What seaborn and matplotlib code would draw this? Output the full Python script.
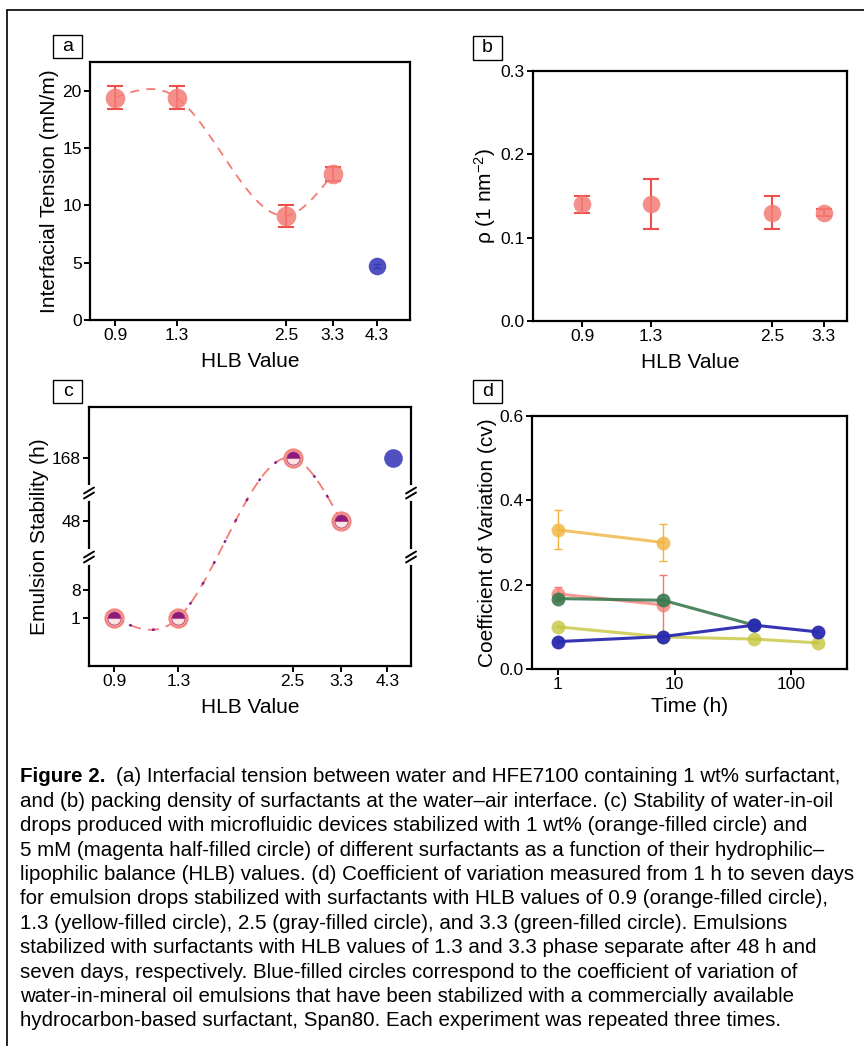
import numpy as np
import pandas as pd
import matplotlib
matplotlib.use("Agg")
import matplotlib.pyplot as plt
import seaborn as sns
from matplotlib.lines import Line2D
from matplotlib.patches import Rectangle

# ---- data -------------------------------------------------------------
hlb = [0.9, 1.3, 2.5, 3.3]
tension = [19.4, 19.4, 9.1, 12.7]
tension_err = [1.0, 1.0, 0.95, 0.6]
span80_hlb = 4.3
span80_tension = 4.7
span80_tension_err = 0.15

density = [0.14, 0.14, 0.13, 0.13]
density_err = [0.01, 0.03, 0.02, 0.004]

stability = [1, 1, 168, 48]
span80_stab_hlb = 4.45
span80_stability = 168

time_h = [1, 8, 48, 168]
cv_hlb09 = [0.33, 0.30]
cv_hlb09_err = [0.046, 0.045]
cv_hlb25 = [0.178, 0.152]
cv_hlb25_err = [0.017, 0.07]
cv_hlb33 = [0.167, 0.163, 0.104]
cv_hlb13 = [0.100, 0.076, 0.071, 0.062]
cv_span80 = [0.065, 0.077, 0.104, 0.088]

caption = [
    "and (b) packing density of surfactants at the water\u2013air interface. (c) Stability of water-in-oil",
    "drops produced with microfluidic devices stabilized with 1 wt% (orange-filled circle) and",
    "5 mM (magenta half-filled circle) of different surfactants as a function of their hydrophilic\u2013",
    "lipophilic balance (HLB) values. (d) Coefficient of variation measured from 1 h to seven days",
    "for emulsion drops stabilized with surfactants with HLB values of 0.9 (orange-filled circle),",
    "1.3 (yellow-filled circle), 2.5 (gray-filled circle), and 3.3 (green-filled circle). Emulsions",
    "stabilized with surfactants with HLB values of 1.3 and 3.3 phase separate after 48 h and",
    "seven days, respectively. Blue-filled circles correspond to the coefficient of variation of",
    "water-in-mineral oil emulsions that have been stabilized with a commercially available",
    "hydrocarbon-based surfactant, Span80. Each experiment was repeated three times.",
]
caption_head = "Figure 2."
caption_first = "(a) Interfacial tension between water and HFE7100 containing 1 wt% surfactant,"

# ---- style ------------------------------------------------------------
sns.set_theme(style="ticks")
plt.rcParams["font.family"] = ["Liberation Sans", "DejaVu Sans"]
plt.rcParams["mathtext.fontset"] = "custom"
plt.rcParams["mathtext.rm"] = "Liberation Sans"
plt.rcParams["mathtext.it"] = "Liberation Sans"
plt.rcParams["text.color"] = "black"
plt.rcParams["axes.labelcolor"] = "black"

SALMON = "#f47c76"
ERR = "#ef4f49"
BLUE = "#3d3dbb"
TICK_FS = 12.5
LAB_FS = 15

W, H = 864, 1046
fig = plt.figure(figsize=(W / 100, H / 100), dpi=100)


def add_ax(l, t, r, b):
    return fig.add_axes([l / W, 1 - b / H, (r - l) / W, (b - t) / H])


def style_ax(ax):
    for s in ax.spines.values():
        s.set_linewidth(1.6)
        s.set_color("black")
    ax.tick_params(direction="out", length=4, width=1.4, labelsize=TICK_FS,
                   colors="black", pad=2)
    ax.minorticks_off()


def natural_spline(x, y, xs):
    x = np.asarray(x, float)
    y = np.asarray(y, float)
    n = len(x)
    h = np.diff(x)
    A = np.zeros((n, n))
    rhs = np.zeros(n)
    A[0, 0] = A[-1, -1] = 1
    for i in range(1, n - 1):
        A[i, i - 1] = h[i - 1]
        A[i, i] = 2 * (h[i - 1] + h[i])
        A[i, i + 1] = h[i]
        rhs[i] = 3 * ((y[i + 1] - y[i]) / h[i] - (y[i] - y[i - 1]) / h[i - 1])
    c = np.linalg.solve(A, rhs)
    out = np.empty_like(xs)
    for k, xv in enumerate(xs):
        i = min(max(np.searchsorted(x, xv) - 1, 0), n - 2)
        dx = xv - x[i]
        b = (y[i + 1] - y[i]) / h[i] - h[i] * (2 * c[i] + c[i + 1]) / 3
        d = (c[i + 1] - c[i]) / (3 * h[i])
        out[k] = y[i] + b * dx + c[i] * dx ** 2 + d * dx ** 3
    return out


def panel_label(cx, cy, s):
    w, h = 29, 23
    fig.add_artist(Rectangle(((cx - w / 2) / W, 1 - (cy + h / 2) / H), w / W, h / H,
                             transform=fig.transFigure, fill=False, lw=1.0, ec="black"))
    fig.text(cx / W, 1 - cy / H, s, ha="center", va="center", fontsize=14)


# ---- (a) interfacial tension -----------------------------------------
ax = add_ax(90, 62, 410, 320)
ax.set_xscale("log")
lx = np.log(hlb)
xs = np.linspace(lx[0], lx[-1], 300)
ax.plot(np.exp(xs), natural_spline(lx, tension, xs), ls=(0, (5, 4)), lw=1.3, color=SALMON)
ax.errorbar(hlb, tension, yerr=tension_err, fmt="none", ecolor=ERR, elinewidth=1.5,
            capsize=6, capthick=1.5)
sns.scatterplot(x=hlb, y=tension, ax=ax, s=200, color=SALMON, alpha=0.85, linewidth=0, zorder=3)
ax.errorbar([span80_hlb], [span80_tension], yerr=[span80_tension_err], fmt="none",
            ecolor="#1a1a80", elinewidth=1, capsize=3)
sns.scatterplot(x=[span80_hlb], y=[span80_tension], ax=ax, s=160, color=BLUE, alpha=0.9,
                linewidth=0, zorder=3)
ax.set_xlim(0.775, 5.24)
ax.set_ylim(0, 22.5)
ax.set_xticks(hlb + [span80_hlb])
ax.set_xticklabels(["0.9", "1.3", "2.5", "3.3", "4.3"])
ax.set_yticks([0, 5, 10, 15, 20])
style_ax(ax)
ax.set_xlabel("HLB Value", fontsize=LAB_FS, labelpad=6)
ax.set_ylabel("Interfacial Tension (mN/m)", fontsize=LAB_FS, labelpad=2)
panel_label(67.5, 46.5, "a")

# ---- (b) packing density ---------------------------------------------
ax = add_ax(533, 71, 847, 321)
ax.set_xscale("log")
ax.errorbar(hlb, density, yerr=density_err, fmt="none", ecolor=ERR, elinewidth=1.5,
            capsize=6, capthick=1.5)
sns.scatterplot(x=hlb, y=density, ax=ax, s=160, color=SALMON, alpha=0.85, linewidth=0, zorder=3)
ax.set_xlim(0.69, 3.74)
ax.set_ylim(0, 0.3)
ax.set_xticks(hlb)
ax.set_xticklabels(["0.9", "1.3", "2.5", "3.3"])
ax.set_yticks([0, 0.1, 0.2, 0.3])
ax.set_yticklabels(["0.0", "0.1", "0.2", "0.3"])
style_ax(ax)
ax.set_xlabel("HLB Value", fontsize=LAB_FS, labelpad=6)
ax.set_ylabel("\u03c1 (1 nm$^{-2}$)", fontsize=LAB_FS, labelpad=2)
panel_label(487.5, 48, "b")

# ---- (c) emulsion stability (broken y axis) ---------------------------
knot_v = np.array([-1000, -11, 16.25, 30, 62, 98, 270, 2000], float)
knot_u = np.array([-3956, 0, 109, 109.01, 173, 173.01, 259, 1124], float)


def fwd(v):
    return np.interp(v, knot_v, knot_u)


def inv(u):
    return np.interp(u, knot_u, knot_v)


ax = add_ax(89, 407, 411, 666)
ax.set_xscale("log")
ax.set_yscale("function", functions=(fwd, inv))
ax.set_ylim(-11, 270)
lx = np.log(hlb)
xs = np.linspace(lx[0], lx[-1], 400)
curve = inv(natural_spline(lx, fwd(np.array(stability, float)), xs))
ax.plot(np.exp(xs), curve, ls=(0, (6, 4)), lw=1.3, color=SALMON)
ax.plot(np.exp(xs), curve, ls=(3, (1.2, 8.8)), lw=1.7, color="#8a1c84")
ax.plot(hlb, stability, ls="none", marker="o", ms=13, mfc="#f7a8a2", mec=SALMON,
        mew=1.6, alpha=0.9, zorder=3)
ax.plot(hlb, stability, ls="none", marker="o", ms=9.5, fillstyle="top", mfc="#8e1a7d",
        mfcalt="#fbe3e3", mec="#b0407a", mew=0.6, zorder=4)
sns.scatterplot(x=[span80_stab_hlb], y=[span80_stability], ax=ax, s=180, color=BLUE,
                alpha=0.9, linewidth=0, zorder=3)
ax.set_xlim(0.78, 4.92)
ax.set_xticks(hlb + [span80_hlb])
ax.set_xticklabels(["0.9", "1.3", "2.5", "3.3", "4.3"])
ax.set_yticks([1, 8, 48, 168])
ax.set_yticklabels(["1", "8", "48", "168"])
style_ax(ax)
ax.set_xlabel("HLB Value", fontsize=LAB_FS, labelpad=6)
ax.set_ylabel("Emulsion Stability (h)", fontsize=LAB_FS, labelpad=2)
for ub in (109, 173):
    yb = ub / 259
    for xb in (0, 1):
        ax.plot([xb, xb], [yb - 6 / 259, yb + 6 / 259], transform=ax.transAxes,
                color="white", lw=3, clip_on=False, zorder=10)
        for off in (-2.5, 2.5):
            ax.plot([xb - 5 / 322, xb + 5 / 322],
                    [yb + (off - 3) / 259, yb + (off + 3) / 259],
                    transform=ax.transAxes, color="black", lw=1.4,
                    clip_on=False, zorder=11)
panel_label(67.5, 391, "c")

# ---- (d) coefficient of variation -------------------------------------
ax = add_ax(532, 416, 847, 669)
ax.set_xscale("log")
series = [
    (time_h[:2], cv_hlb09, cv_hlb09_err, "#f2b340", 0.8),
    (time_h[:2], cv_hlb25, cv_hlb25_err, "#f47870", 0.75),
    (time_h[:3], cv_hlb33, None, "#3b7a50", 0.9),
    (time_h, cv_hlb13, None, "#c6c640", 0.8),
    (time_h, cv_span80, None, "#2a2ab0", 0.95),
]
for t, v, e, col, a in series:
    if e is not None:
        ax.errorbar(t, v, yerr=e, fmt="none", ecolor=col, elinewidth=1, capsize=3)
    df = pd.DataFrame({"t": t, "cv": v})
    sns.lineplot(data=df, x="t", y="cv", ax=ax, color=col, lw=2.2, alpha=a,
                 marker="o", markersize=10, markeredgewidth=0)
ax.set_xlim(0.6, 300)
ax.set_ylim(0, 0.6)
ax.set_xticks([1, 10, 100])
ax.set_xticklabels(["1", "10", "100"])
ax.set_yticks([0, 0.2, 0.4, 0.6])
ax.set_yticklabels(["0.0", "0.2", "0.4", "0.6"])
style_ax(ax)
ax.set_xlabel("Time (h)", fontsize=LAB_FS, labelpad=3)
ax.set_ylabel("Coefficient of Variation (cv)", fontsize=LAB_FS, labelpad=2)
panel_label(487.5, 391, "d")

# ---- outer frame + caption --------------------------------------------
fig.add_artist(Line2D([7 / W, 7 / W], [0, 1 - 10 / H], transform=fig.transFigure,
                      color="black", lw=1.2))
fig.add_artist(Line2D([7 / W, 1], [1 - 10 / H, 1 - 10 / H], transform=fig.transFigure,
                      color="black", lw=1.2))

CAP_FS = 14.75
y0, dy = 777, 24.4
head = fig.text(20 / W, 1 - y0 / H, caption_head, fontsize=CAP_FS, weight="bold",
                va="center", ha="left")
r = fig.canvas.get_renderer()
bb = head.get_window_extent(r)
fig.text((bb.x1 + 10) / W, 1 - y0 / H, caption_first, fontsize=CAP_FS, va="center", ha="left")
for i, line in enumerate(caption, start=1):
    fig.text(20 / W, 1 - (y0 + i * dy) / H, line, fontsize=CAP_FS, va="center", ha="left")

fig.savefig("out.png", dpi=100)
